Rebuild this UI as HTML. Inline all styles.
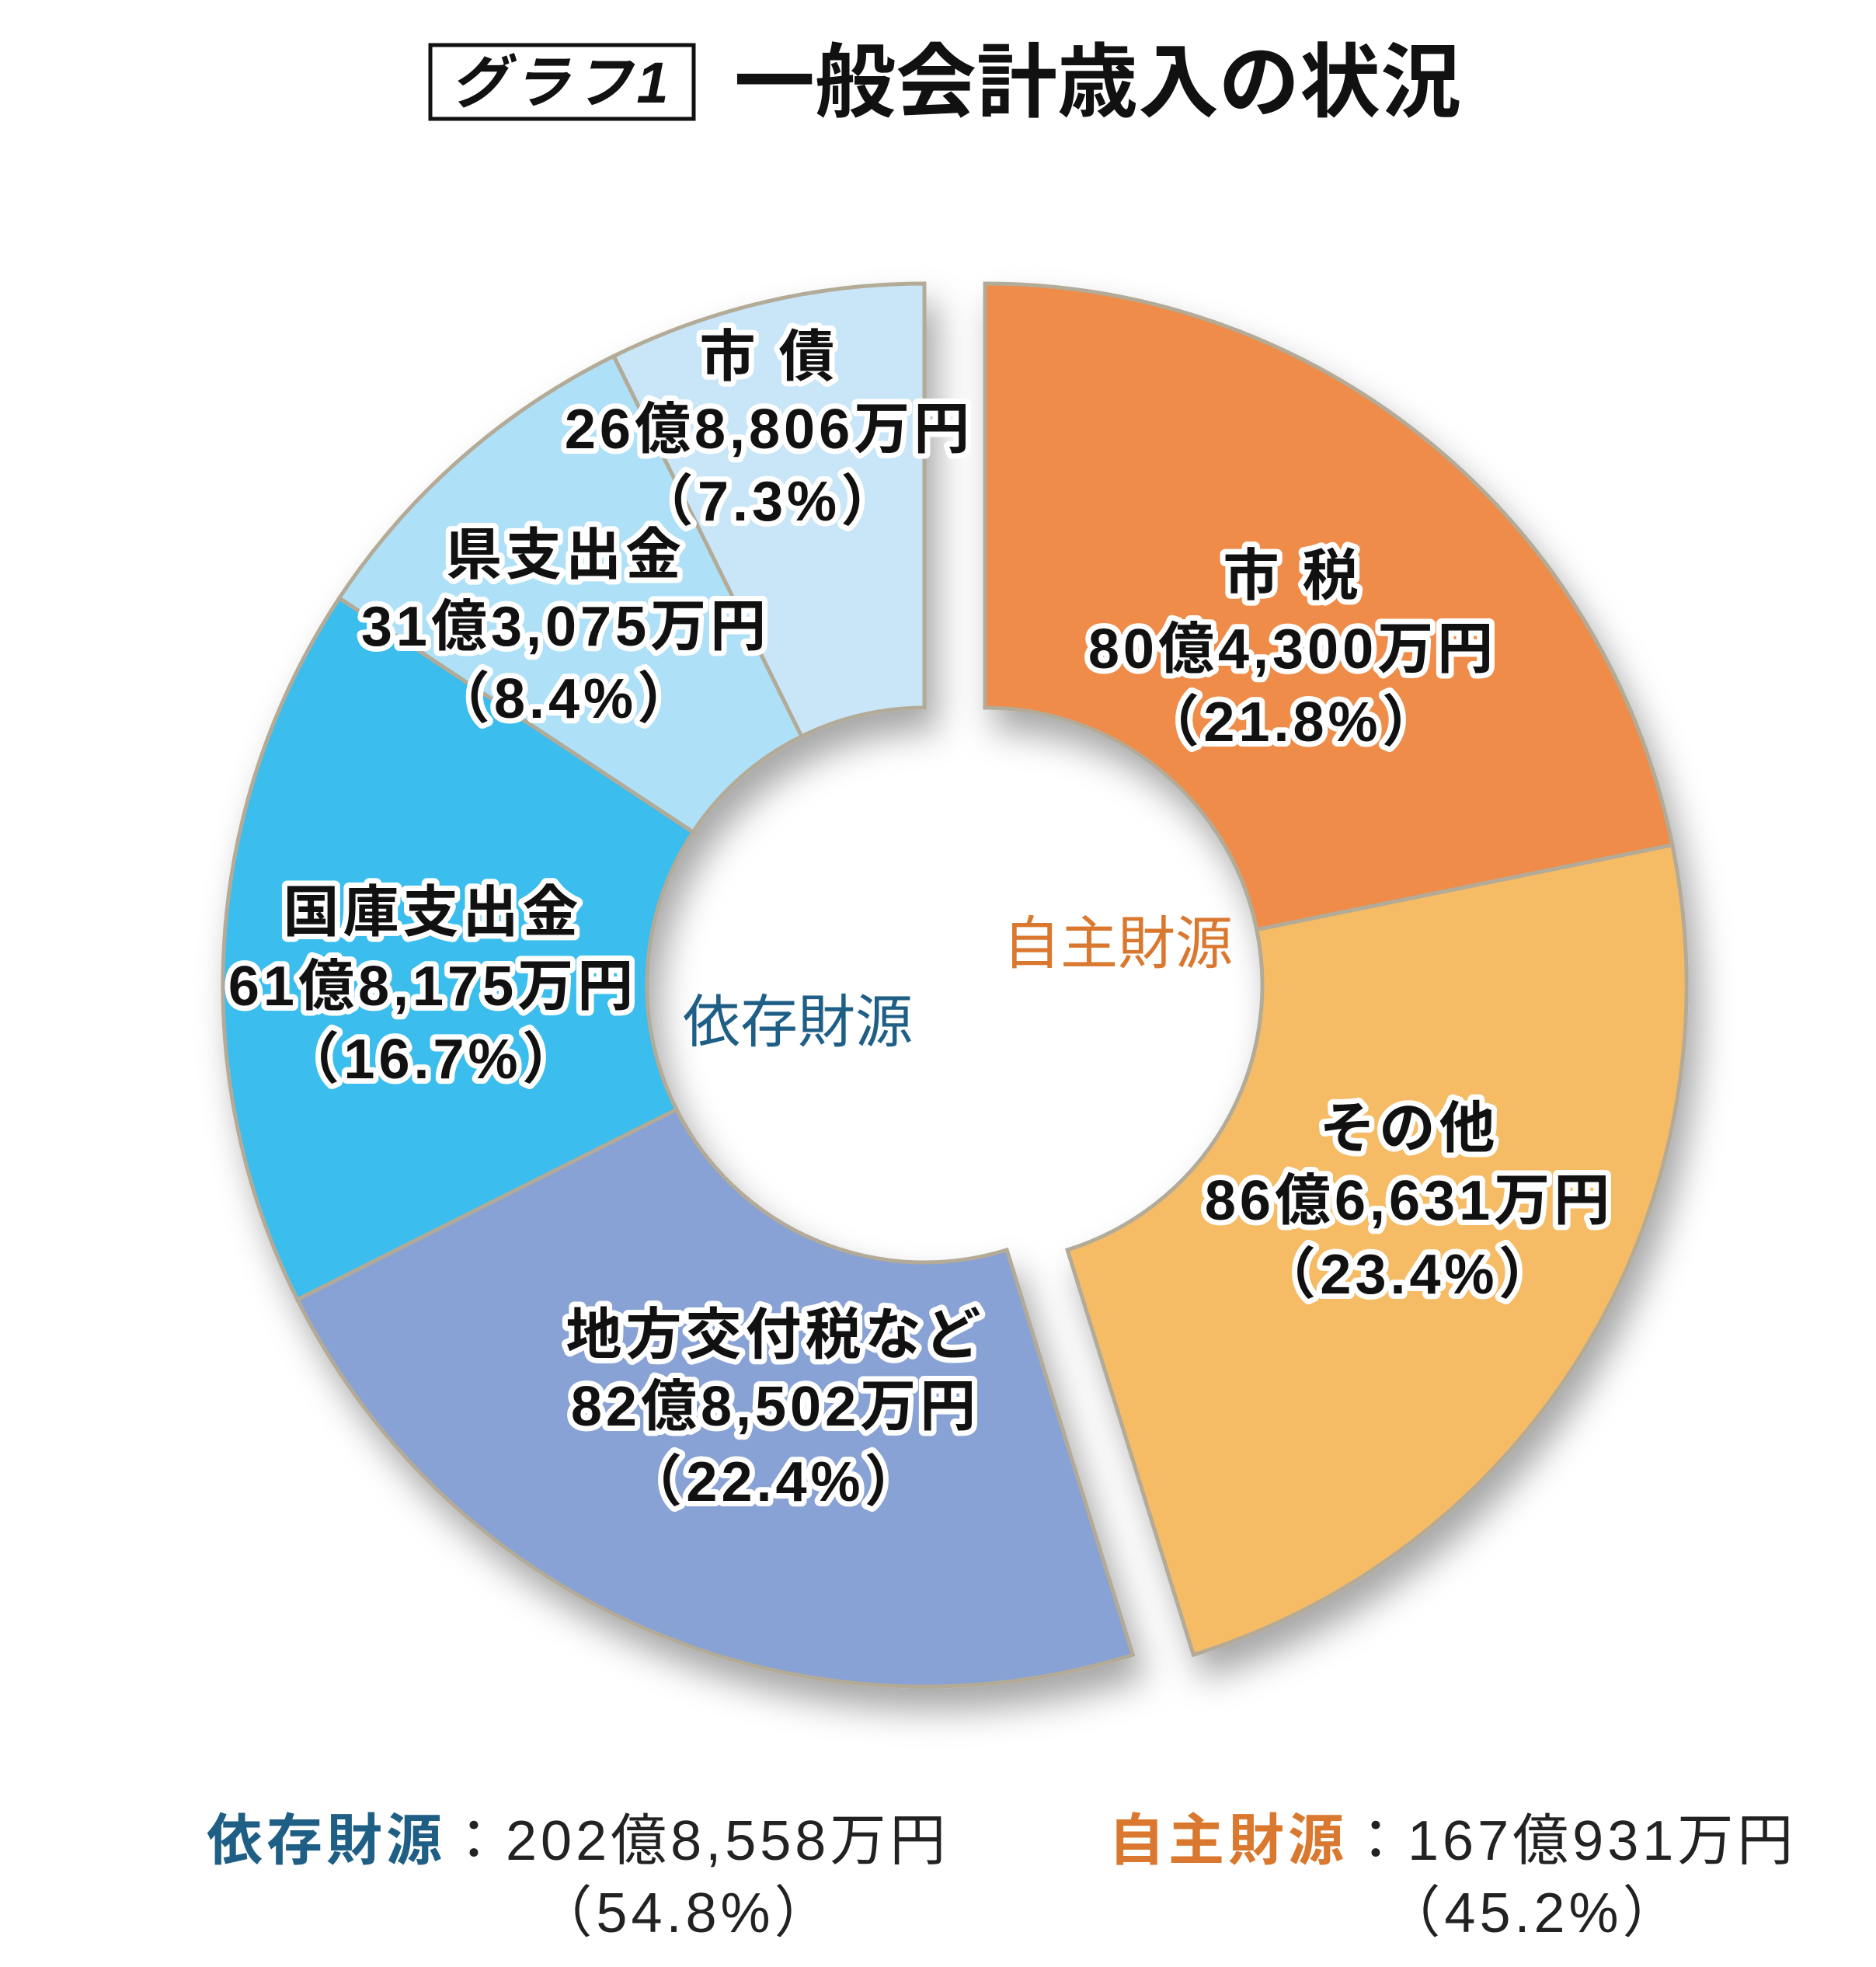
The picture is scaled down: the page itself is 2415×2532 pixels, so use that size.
<!DOCTYPE html>
<html><head><meta charset="utf-8"><style>
html,body{margin:0;padding:0;background:#fff;}
svg{display:block;}
text{font-family:"Liberation Sans","Noto Sans CJK JP",sans-serif;}
.lb{font-size:72px;font-weight:bold;fill:#111;stroke:#fff;stroke-width:14px;paint-order:stroke;stroke-linejoin:round;text-anchor:middle;letter-spacing:5px;}
.bt{letter-spacing:5px;}
</style></head><body>
<svg width="2415" height="2532" viewBox="0 0 2415 2532" xmlns="http://www.w3.org/2000/svg">
<defs>
<filter id="sh" x="-20%" y="-20%" width="140%" height="140%">
<feDropShadow dx="14" dy="28" stdDeviation="22" flood-color="#000" flood-opacity="0.35"/>
</filter>
</defs>
<rect x="554" y="58" width="339" height="95" fill="#fff" stroke="#111" stroke-width="5"/>
<text x="723" y="132" font-size="74" font-weight="bold" font-style="italic" text-anchor="middle" fill="#111" letter-spacing="6">グラフ1</text>
<text x="1413" y="142" font-size="104" font-weight="bold" text-anchor="middle" fill="#111">一般会計歳入の状況</text>

<g stroke="#b3ab98" stroke-width="5" stroke-linejoin="miter">
<g filter="url(#sh)">
<path d="M1268,365 A903,903 0 0 1 2152.9,1087.7 L1617.8,1196.7 A357,357 0 0 0 1268,911 Z" fill="#ef8c48"/>
<path d="M2152.9,1087.7 A903,903 0 0 1 1536.3,2130.2 L1374.1,1608.9 A357,357 0 0 0 1617.8,1196.7 Z" fill="#f6bb65"/>
</g>
<g filter="url(#sh)">
<path d="M1458.3,2130.2 A903,903 0 0 1 382.8,1672.9 L870.9,1428.1 A357,357 0 0 0 1296.1,1608.9 Z" fill="#88a2d5"/>
<path d="M382.8,1672.9 A903,903 0 0 1 436.8,769.8 L892.2,1071.0 A357,357 0 0 0 870.9,1428.1 Z" fill="#3bbdee"/>
<path d="M436.8,769.8 A903,903 0 0 1 790.1,458.4 L1031.9,947.9 A357,357 0 0 0 892.2,1071.0 Z" fill="#aee0f8"/>
<path d="M790.1,458.4 A903,903 0 0 1 1190,365 L1190,911 A357,357 0 0 0 1031.9,947.9 Z" fill="#c8e6f7"/>
</g>
</g>

<g>
<text class="lb" x="990" y="484">市 債</text>
<text class="lb" x="990" y="577">26億8,806万円</text>
<text class="lb" x="990" y="670">（7.3%）</text>
<text class="lb" x="728" y="739">県支出金</text>
<text class="lb" x="728" y="831">31億3,075万円</text>
<text class="lb" x="728" y="924">（8.4%）</text>
<text class="lb" x="557" y="1199">国庫支出金</text>
<text class="lb" x="557" y="1294">61億8,175万円</text>
<text class="lb" x="557" y="1388">（16.7%）</text>
<text class="lb" x="998" y="1743">地方交付税など</text>
<text class="lb" x="998" y="1835">82億8,502万円</text>
<text class="lb" x="998" y="1932">（22.4%）</text>
<text class="lb" x="1664" y="766">市 税</text>
<text class="lb" x="1664" y="860">80億4,300万円</text>
<text class="lb" x="1664" y="954">（21.8%）</text>
<text class="lb" x="1814" y="1477">その他</text>
<text class="lb" x="1814" y="1570">86億6,631万円</text>
<text class="lb" x="1814" y="1665">（23.4%）</text>
</g>

<text x="1439" y="1240" font-size="74" text-anchor="middle" fill="#d9782e">自主財源</text>
<text x="1027" y="1341" font-size="74" text-anchor="middle" fill="#1f5f86">依存財源</text>

<text class="bt" x="266" y="2394" font-size="72" fill="#1f5f86" font-weight="bold">依存財源<tspan fill="#222" font-weight="normal">：202億8,558万円</tspan></text>
<text class="bt" x="882" y="2487" font-size="72" text-anchor="middle" fill="#222">（54.8%）</text>
<text class="bt" x="1427" y="2394" font-size="72" fill="#d9782e" font-weight="bold">自主財源<tspan fill="#222" font-weight="normal">：167億931万円</tspan></text>
<text class="bt" x="1974" y="2487" font-size="72" text-anchor="middle" fill="#222">（45.2%）</text>
</svg>
</body></html>
